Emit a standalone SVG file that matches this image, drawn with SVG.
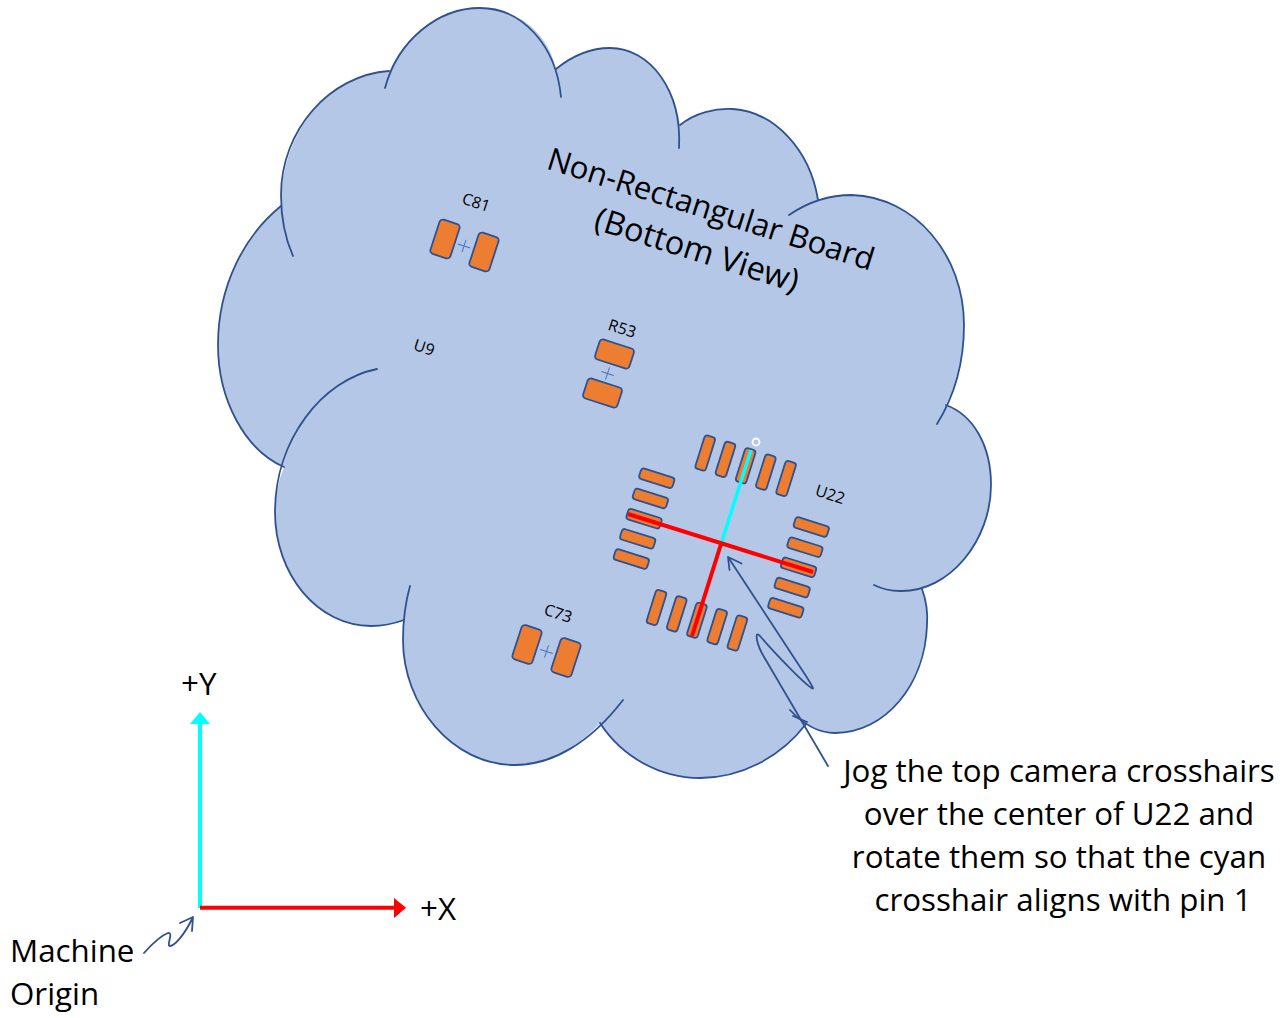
<svg xmlns="http://www.w3.org/2000/svg" width="1283" height="1018" viewBox="0 0 1283 1018">
<style>
.out{fill:none;stroke:#2F528F;stroke-width:1.8;stroke-linecap:round;stroke-linejoin:round}
.pad{fill:#ED7D31;stroke:#2F528F;stroke-width:1.8}
.plus{fill:none;stroke:#4472C4;stroke-width:1}
text{font-family:"Open Sans","Noto Sans","DejaVu Sans",sans-serif;fill:#000}
.lab{font-size:31.3px}
.ref{font-size:16px;text-anchor:middle}
.title{font-size:31.2px;text-anchor:middle}
.title2{font-size:32.5px;text-anchor:middle}
.mid{text-anchor:middle}
</style>
<defs>
<rect id="sp" class="pad" x="-5.5" y="-17.5" width="11" height="35" rx="3"/>
<g id="cr"><path class="plus" d="M-6.5,0H6.5M0,-6.5V6.5"/></g>
</defs>
<g id="board">
<path fill="#B4C7E7" d="M389,72 C405,35 440,8 480,8 C517,8 548,33 556,69 C572,56 590,48 610,48 C645,48 675,82 680,125 C695,113 715,108 733,109 C775,112 810,150 818,200 C830,197 840,195 852,195 C915,197 964,255 964,325 C964,352 958,380 946,405 C973,415 991,445 991,485 C991,535 960,578 922,589 C926,600 928,612 927,625 C925,685 885,733 835,733 C824,733 814,729 806,724 C780,758 740,778 700,778 C660,778 622,757 600,723 C575,750 545,765 515,765 C452,765 403,705 403,640 L404,620 C393,624 382,626 371,626 C318,626 275,575 275,512 C275,497 278,482 284,467 C245,450 218,400 218,345 C218,285 245,235 281,206 C281,130 330,75 389,72Z"/>
<path class="out" d="M385,88 C398,40 438,8 480,8 C522,8 556,45 561,97"/>
<path class="out" d="M556,69 C572,56 590,48 610,48 C650,48 682,90 679,148"/>
<path class="out" d="M680,125 C695,113 715,108 733,109 C775,112 810,150 818,200"/>
<path class="out" d="M789,215 C808,202 830,195 852,195 C915,197 964,255 964,325 C964,360 955,395 937,424"/>
<path class="out" d="M946,405 C973,415 991,445 991,485 C991,540 950,592 900,591 C890,591 882,589 874,585"/>
<path class="out" d="M922,589 C926,600 928,612 927,625 C925,685 885,733 835,733 C820,733 805,726 790,710"/>
<path class="out" d="M806,724 C780,758 740,778 700,778 C660,778 622,757 600,723"/>
<path class="out" d="M793,716 L807,722"/>
<path class="out" d="M623,700 C590,743 552,765 515,765 C452,765 403,705 403,640 C403,622 405,604 410,586"/>
<path class="out" d="M404,620 C393,624 382,626 371,626 C318,626 275,575 275,512 C275,440 322,380 377,369"/>
<path class="out" d="M284,467 C245,450 218,400 218,345 C218,285 245,235 281,206"/>
<path class="out" d="M293,256 C285,238 281,215 281,195 C281,130 330,75 389,71"/>
<text class="title" transform="translate(711,209) rotate(17.5)" x="0" y="11">Non-Rectangular Board</text>
<text class="title2" transform="translate(697,250) rotate(17.5)" x="0" y="11">(Bottom View)</text>
</g>
<g id="c81">
<rect class="pad" x="-10.5" y="-18" width="21" height="36" rx="3.5" transform="translate(445,239) rotate(18)"/>
<rect class="pad" x="-10.5" y="-18" width="21" height="36" rx="3.5" transform="translate(484,252) rotate(18)"/>
<use href="#cr" transform="translate(464,246) rotate(18)"/>
<text class="ref" transform="translate(476,203) rotate(18)" y="5">C81</text>
</g>
<g id="r53">
<rect class="pad" x="-18" y="-10.5" width="36" height="21" rx="3.5" transform="translate(614.5,354) rotate(18)"/>
<rect class="pad" x="-18" y="-10.5" width="36" height="21" rx="3.5" transform="translate(602.5,393) rotate(18)"/>
<use href="#cr" transform="translate(607.5,373.5) rotate(18)"/>
<text class="ref" transform="translate(622,329) rotate(18)" y="5">R53</text>
</g>
<g id="u9"><text class="ref" transform="translate(424,348) rotate(18)" y="5">U9</text></g>
<g id="c73">
<rect class="pad" x="-10.5" y="-18" width="21" height="36" rx="3.5" transform="translate(527,644.5) rotate(18)"/>
<rect class="pad" x="-10.5" y="-18" width="21" height="36" rx="3.5" transform="translate(566,657.5) rotate(18)"/>
<use href="#cr" transform="translate(546.5,651.5) rotate(18)"/>
<text class="ref" transform="translate(558,614) rotate(18)" y="5">C73</text>
</g>
<g id="u22">
<g transform="translate(721.3,543) rotate(17.5)">
<use href="#sp" x="-42.4" y="-81"/><use href="#sp" x="-21.2" y="-81"/><use href="#sp" x="0" y="-81"/><use href="#sp" x="21.2" y="-81"/><use href="#sp" x="42.4" y="-81"/>
<use href="#sp" x="-42.4" y="81"/><use href="#sp" x="-21.2" y="81"/><use href="#sp" x="0" y="81"/><use href="#sp" x="21.2" y="81"/><use href="#sp" x="42.4" y="81"/>
<g transform="rotate(90)"><use href="#sp" x="-42.4" y="-81"/><use href="#sp" x="-21.2" y="-81"/><use href="#sp" x="0" y="-81"/><use href="#sp" x="21.2" y="-81"/><use href="#sp" x="42.4" y="-81"/>
<use href="#sp" x="-42.4" y="81"/><use href="#sp" x="-21.2" y="81"/><use href="#sp" x="0" y="81"/><use href="#sp" x="21.2" y="81"/><use href="#sp" x="42.4" y="81"/></g>
</g>
<text class="ref" transform="translate(830,495) rotate(18)" y="5">U22</text>
<circle cx="756" cy="442" r="3.5" fill="none" stroke="#fff" stroke-width="1.8"/>
</g>
<g id="connectors">
<path d="M721,544 L751,450" fill="none" stroke="#00FFFF" stroke-width="3.5"/>
<path d="M628,514 L813,572 M721,544 L692,636" fill="none" stroke="#FF0000" stroke-width="4"/>
<path class="out" d="M728,557 L806,676 C811,684 814,689 812.7,688.5 C806,686 772,650 760,636 C757,633 756,634 757,640 C758,646 762,654 767,662 L828,766 M729.5,570 L728,557 L741.5,563.5"/>
<path d="M200,908 V723" fill="none" stroke="#00FFFF" stroke-width="4"/>
<path d="M200,712 L210,724 H190Z" fill="#00FFFF"/>
<path d="M200,907.7 H395" fill="none" stroke="#FF0000" stroke-width="4"/>
<path d="M406,907.7 L394,898 V918Z" fill="#FF0000"/>
<path class="out" d="M144,953 C152,944 160,936 168,933 C174,932 166,946 170,946 C174,946 184,936 193,917 M180,923 L193,917 L192,931"/>
</g>
<g id="labels">
<text class="lab" x="181" y="695">+Y</text>
<text class="lab" x="420" y="920">+X</text>
<text class="lab" x="10" y="962">Machine</text>
<text class="lab" x="10" y="1005">Origin</text>
<text class="lab mid" x="1059" y="782">Jog the top camera crosshairs</text>
<text class="lab mid" x="1059" y="825">over the center of U22 and</text>
<text class="lab mid" x="1059" y="868">rotate them so that the cyan</text>
<text class="lab mid" x="1063" y="911">crosshair aligns with pin 1</text>
</g>
</svg>
